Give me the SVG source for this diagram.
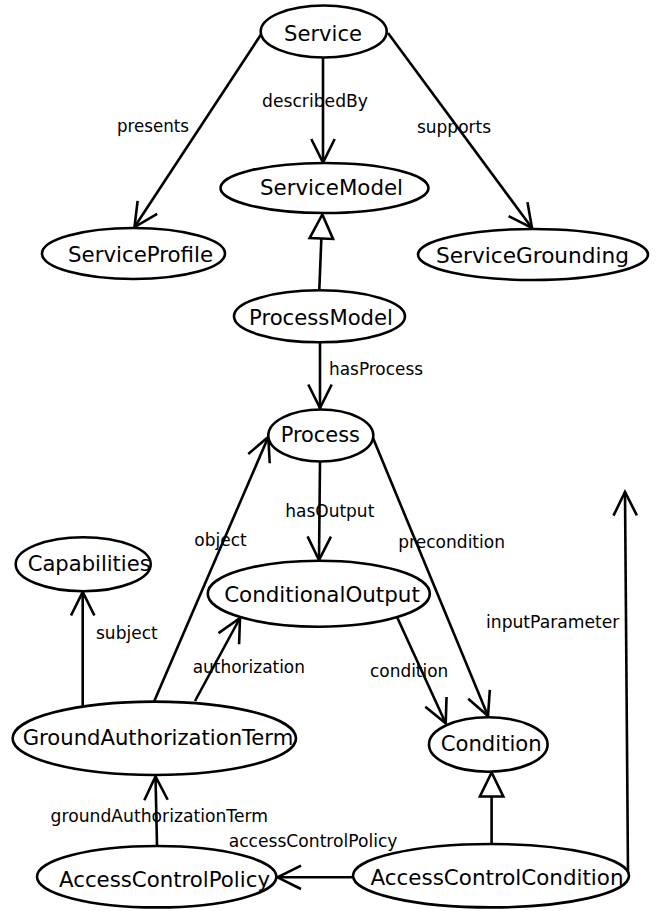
<svg xmlns="http://www.w3.org/2000/svg" width="658" height="911" viewBox="0 0 658 911">
<style>
.node ellipse{fill:#fff;stroke:#000;stroke-width:2.6}
.node text{font-family:"DejaVu Sans","Liberation Sans",sans-serif;font-size:21px;fill:#000;text-anchor:middle}
.edge line{stroke:#000;stroke-width:2.6;fill:none}
.assoc{marker-end:url(#open)}
.gen{marker-end:url(#tri)}
.lbl{font-family:"DejaVu Sans","Liberation Sans",sans-serif;font-size:17px;fill:#000}
</style>
<defs>
<marker id="open" markerUnits="userSpaceOnUse" viewBox="-28 -16 32 32" refX="0" refY="0" markerWidth="32" markerHeight="32" orient="auto" overflow="visible">
<path d="M-23.5,-11.7 L0,0 L-23.5,11.7" fill="none" stroke="#000" stroke-width="2.6"/>
</marker>
<marker id="tri" markerUnits="userSpaceOnUse" viewBox="-28 -16 32 32" refX="0" refY="0" markerWidth="32" markerHeight="32" orient="auto" overflow="visible">
<path d="M0,0 L-24,-11.7 L-24,11.7 Z" fill="#fff" stroke="#000" stroke-width="2.6"/>
</marker>
</defs>
<rect width="658" height="911" fill="#fff"/>
<g id="connectors" class="edge">
<line class="assoc" x1="262" y1="33" x2="134.5" y2="227"/>
<line class="assoc" x1="323" y1="57" x2="323" y2="162.5"/>
<line class="assoc" x1="388" y1="33" x2="532" y2="228"/>
<line class="gen" x1="319.3" y1="290" x2="322.3" y2="214.5"/>
<line class="assoc" x1="320" y1="342" x2="320" y2="408"/>
<line class="assoc" x1="320" y1="462" x2="319" y2="560"/>
<line class="assoc" x1="373" y1="438" x2="488" y2="716"/>
<line class="assoc" x1="154.3" y1="701" x2="268.3" y2="437"/>
<line class="assoc" x1="82.7" y1="706" x2="82.7" y2="592"/>
<line class="assoc" x1="195" y1="701" x2="240" y2="618"/>
<line class="assoc" x1="397" y1="617" x2="445.7" y2="723.3"/>
<line class="assoc" x1="157" y1="845" x2="155.5" y2="776.5"/>
<line class="assoc" x1="352.5" y1="877.3" x2="277.5" y2="877.3"/>
<line class="gen" x1="491.6" y1="844" x2="491.6" y2="772.5"/>
<line class="assoc" x1="628" y1="873" x2="625" y2="492"/>
<text class="lbl" x="117" y="132" textLength="72" lengthAdjust="spacingAndGlyphs">presents</text>
<text class="lbl" x="262" y="107" textLength="106" lengthAdjust="spacingAndGlyphs">describedBy</text>
<text class="lbl" x="417" y="133" textLength="74" lengthAdjust="spacingAndGlyphs">supports</text>
<text class="lbl" x="329" y="375" textLength="94" lengthAdjust="spacingAndGlyphs">hasProcess</text>
<text class="lbl" x="285.3" y="516.7" textLength="89" lengthAdjust="spacingAndGlyphs">hasOutput</text>
<text class="lbl" x="194.3" y="546" textLength="52.4" lengthAdjust="spacingAndGlyphs">object</text>
<text class="lbl" x="398.3" y="548.3" textLength="106.7" lengthAdjust="spacingAndGlyphs">precondition</text>
<text class="lbl" x="486" y="628.3" textLength="133.3" lengthAdjust="spacingAndGlyphs">inputParameter</text>
<text class="lbl" x="96" y="639" textLength="61.7" lengthAdjust="spacingAndGlyphs">subject</text>
<text class="lbl" x="192.7" y="673.3" textLength="112.3" lengthAdjust="spacingAndGlyphs">authorization</text>
<text class="lbl" x="370" y="676.7" textLength="78.3" lengthAdjust="spacingAndGlyphs">condition</text>
<text class="lbl" x="50.6" y="821.7" textLength="217.4" lengthAdjust="spacingAndGlyphs">groundAuthorizationTerm</text>
<text class="lbl" x="228.7" y="846.7" textLength="168.8" lengthAdjust="spacingAndGlyphs">accessControlPolicy</text>
</g>
<g id="Service" class="node"><ellipse cx="323.7" cy="31.5" rx="63" ry="26"/><text x="323" y="40.7" textLength="78" lengthAdjust="spacingAndGlyphs">Service</text></g>
<g id="ServiceModel" class="node"><ellipse cx="324.5" cy="188" rx="104" ry="25"/><text x="331.5" y="195" textLength="143" lengthAdjust="spacingAndGlyphs">ServiceModel</text></g>
<g id="ServiceProfile" class="node"><ellipse cx="133.5" cy="253.5" rx="91.5" ry="25.5"/><text x="140.5" y="262" textLength="145" lengthAdjust="spacingAndGlyphs">ServiceProfile</text></g>
<g id="ServiceGrounding" class="node"><ellipse cx="533" cy="254.5" rx="115" ry="25.5"/><text x="532.5" y="263" textLength="193" lengthAdjust="spacingAndGlyphs">ServiceGrounding</text></g>
<g id="ProcessModel" class="node"><ellipse cx="319.5" cy="316.3" rx="85.5" ry="26"/><text x="321" y="325" textLength="144" lengthAdjust="spacingAndGlyphs">ProcessModel</text></g>
<g id="Process" class="node"><ellipse cx="320.8" cy="435.5" rx="52.5" ry="26"/><text x="320.3" y="441.7" textLength="79.3" lengthAdjust="spacingAndGlyphs">Process</text></g>
<g id="Capabilities" class="node"><ellipse cx="83.2" cy="564.2" rx="67.5" ry="27"/><text x="89.2" y="570.7" textLength="123" lengthAdjust="spacingAndGlyphs">Capabilities</text></g>
<g id="ConditionalOutput" class="node"><ellipse cx="318.8" cy="593.7" rx="111" ry="33"/><text x="322" y="601.7" textLength="195.7" lengthAdjust="spacingAndGlyphs">ConditionalOutput</text></g>
<g id="GroundAuthorizationTerm" class="node"><ellipse cx="154.3" cy="738.3" rx="141.7" ry="36.7"/><text x="158" y="745" textLength="270.6" lengthAdjust="spacingAndGlyphs">GroundAuthorizationTerm</text></g>
<g id="Condition" class="node"><ellipse cx="488.3" cy="744.5" rx="59.3" ry="27.2"/><text x="491.2" y="750.7" textLength="101" lengthAdjust="spacingAndGlyphs">Condition</text></g>
<g id="AccessControlPolicy" class="node"><ellipse cx="156.7" cy="876.7" rx="119.7" ry="30.7"/><text x="164.5" y="886.7" textLength="211" lengthAdjust="spacingAndGlyphs">AccessControlPolicy</text></g>
<g id="AccessControlCondition" class="node"><ellipse cx="491" cy="875.7" rx="138" ry="31.7"/><text x="497" y="885" textLength="253" lengthAdjust="spacingAndGlyphs">AccessControlCondition</text></g>
</svg>
